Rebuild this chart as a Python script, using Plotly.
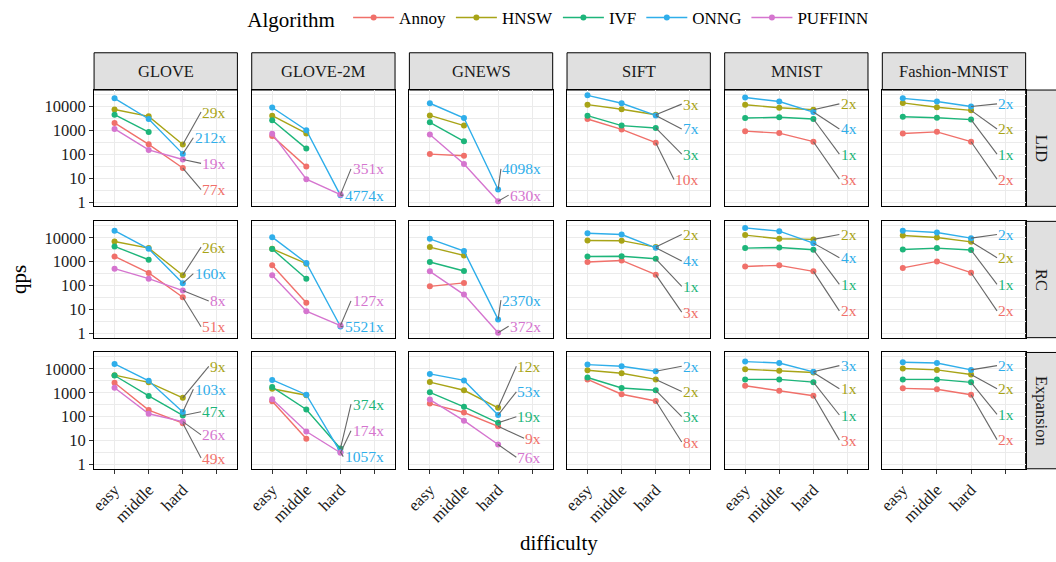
import plotly.graph_objects as go

# ---------------------------------------------------------------- data
DIFFICULTY = ["easy", "middle", "hard", ""]
ALGORITHMS = ["Annoy", "HNSW", "IVF", "ONNG", "PUFFINN"]
DATASETS = ["GLOVE", "GLOVE-2M", "GNEWS", "SIFT", "MNIST", "Fashion-MNIST"]
METRICS = ["LID", "RC", "Expansion"]

# queries per second at easy / middle / hard workloads (None = not measured)
QPS_LID = {
    "GLOVE": {"Annoy": [2050, 262, 26.6], "HNSW": [7500, 3870, 259], "IVF": [4550, 850, None],
              "ONNG": [22000, 3000, 104], "PUFFINN": [1150, 153, 60.5]},
    "GLOVE-2M": {"Annoy": [580, 30.5, None], "HNSW": [4150, 745, None], "IVF": [2650, 173, None],
                 "ONNG": [9100, 1020, 1.906], "PUFFINN": [720, 9.1, 2.05]},
    "GNEWS": {"Annoy": [102, 87, None], "HNSW": [4250, 1590, None], "IVF": [2190, 348, None],
              "ONNG": [13700, 3300, 3.343], "PUFFINN": [680, 39.5, 1.079]},
    "SIFT": {"Annoy": [3000, 1100, 307], "HNSW": [12000, 7700, 4550], "IVF": [4150, 1590, 1270],
             "ONNG": [29300, 13700, 4250]},
    "MNIST": {"Annoy": [930, 770, 337], "HNSW": [11800, 8900, 7300], "IVF": [3300, 3530, 3000],
              "ONNG": [24000, 16200, 5850]},
    "Fashion-MNIST": {"Annoy": [745, 870, 337], "HNSW": [14200, 9300, 6900], "IVF": [3750, 3400, 2830],
                      "ONNG": [22000, 16200, 10000]},
}
QPS_RC = {
    "GLOVE": {"Annoy": [1660, 339, 32.5], "HNSW": [7000, 3720, 270], "IVF": [4350, 1210, None],
              "ONNG": [20000, 3470, 125], "PUFFINN": [510, 195, 62]},
    "GLOVE-2M": {"Annoy": [705, 19, None], "HNSW": [3470, 830, None], "IVF": [3400, 195, None],
                 "ONNG": [10700, 890, 1.938], "PUFFINN": [270, 8.5, 2.126]},
    "GNEWS": {"Annoy": [93, 130, None], "HNSW": [4100, 1830, None], "IVF": [970, 410, None],
              "ONNG": [9100, 2800, 3.84], "PUFFINN": [395, 42, 1.062]},
    "SIFT": {"Annoy": [970, 1130, 288], "HNSW": [7700, 7600, 4100], "IVF": [1660, 1700, 1330],
             "ONNG": [15600, 13700, 3830]},
    "MNIST": {"Annoy": [635, 705, 395], "HNSW": [13000, 9100, 8600], "IVF": [3720, 3960, 3160],
              "ONNG": [26000, 19000, 6000]},
    "Fashion-MNIST": {"Annoy": [550, 1030, 347], "HNSW": [12500, 10300, 6800], "IVF": [3250, 3720, 3080],
                      "ONNG": [20000, 16600, 9700]},
}
QPS_EXPANSION = {
    "GLOVE": {"Annoy": [2630, 190, 53.7], "HNSW": [5500, 2740, 615], "IVF": [5300, 740, 113],
              "ONNG": [16200, 3180, 157], "PUFFINN": [1620, 133, 62.3]},
    "GLOVE-2M": {"Annoy": [447, 12, None], "HNSW": [1480, 790, None], "IVF": [1740, 200, 4.65],
                 "ONNG": [3480, 835, 3.292], "PUFFINN": [540, 24, 3.103]},
    "GNEWS": {"Annoy": [355, 150, 39.4], "HNSW": [2820, 1280, 235], "IVF": [1050, 258, 55.3],
              "ONNG": [6200, 3300, 117], "PUFFINN": [520, 68, 6.84]},
    "SIFT": {"Annoy": [3640, 870, 455], "HNSW": [8850, 6600, 3640], "IVF": [4380, 1590, 1280],
             "ONNG": [15200, 12900, 8000]},
    "MNIST": {"Annoy": [1980, 1230, 750], "HNSW": [9750, 8300, 7080], "IVF": [3640, 3640, 2800],
              "ONNG": [20300, 17800, 7560]},
    "Fashion-MNIST": {"Annoy": [1540, 1410, 835], "HNSW": [10400, 9100, 5870], "IVF": [3640, 3640, 2740],
                      "ONNG": [19000, 17800, 9100]},
}
QPS = {"LID": QPS_LID, "RC": QPS_RC, "Expansion": QPS_EXPANSION}

# ---------------------------------------------------------------- label placement (log10 qps)
LABEL_Y_LID = {
    "GLOVE": {"HNSW": 3.77, "ONNG": 2.69, "PUFFINN": 1.62, "Annoy": 0.52},
    "GLOVE-2M": {"PUFFINN": 1.39, "ONNG": 0.29},
    "GNEWS": {"ONNG": 1.39, "PUFFINN": 0.29},
    "SIFT": {"HNSW": 4.10, "ONNG": 3.06, "IVF": 2.01, "Annoy": 0.94},
    "MNIST": {"HNSW": 4.11, "ONNG": 3.06, "IVF": 2.01, "Annoy": 0.96},
    "Fashion-MNIST": {"ONNG": 4.11, "HNSW": 3.06, "IVF": 2.01, "Annoy": 0.96},
}
LABEL_Y_RC = {
    "GLOVE": {"HNSW": 3.61, "ONNG": 2.50, "PUFFINN": 1.36, "Annoy": 0.28},
    "GLOVE-2M": {"PUFFINN": 1.36, "ONNG": 0.28},
    "GNEWS": {"ONNG": 1.39, "PUFFINN": 0.30},
    "SIFT": {"HNSW": 4.14, "ONNG": 3.03, "IVF": 1.97, "Annoy": 0.89},
    "MNIST": {"HNSW": 4.14, "ONNG": 3.17, "IVF": 2.05, "Annoy": 0.94},
    "Fashion-MNIST": {"ONNG": 4.14, "HNSW": 3.17, "IVF": 2.05, "Annoy": 0.94},
}
LABEL_Y_EXPANSION = {
    "GLOVE": {"HNSW": 4.11, "ONNG": 3.15, "IVF": 2.21, "PUFFINN": 1.24, "Annoy": 0.27},
    "GLOVE-2M": {"IVF": 2.53, "PUFFINN": 1.41, "ONNG": 0.33},
    "GNEWS": {"HNSW": 4.11, "ONNG": 3.04, "IVF": 2.00, "Annoy": 1.10, "PUFFINN": 0.30},
    "SIFT": {"ONNG": 4.11, "HNSW": 3.06, "IVF": 2.00, "Annoy": 0.94},
    "MNIST": {"ONNG": 4.14, "HNSW": 3.17, "IVF": 2.07, "Annoy": 1.02},
    "Fashion-MNIST": {"ONNG": 4.14, "HNSW": 3.17, "IVF": 2.10, "Annoy": 1.04},
}
LABEL_Y = {"LID": LABEL_Y_LID, "RC": LABEL_Y_RC, "Expansion": LABEL_Y_EXPANSION}

COLORS = {"Annoy": "#F0706A", "HNSW": "#A8A417", "IVF": "#1DB57A",
          "ONNG": "#2FAEEA", "PUFFINN": "#D575CF"}

Y_TICKS = [1, 10, 100, 1000, 10000]

# ---------------------------------------------------------------- geometry
W, H = 1056, 562
FONT = "'Liberation Serif', 'Times New Roman', 'DejaVu Serif', serif"
PANEL_W, PANEL_H = 144, 118
COL_LEFT = [89.5 + 158.4 * i for i in range(6)]
ROW_TOP = [88.3, 221.5, 354.5]
X_RANGE = [0.4, 4.6]
Y_RANGE = [-0.18, 4.69]
LABEL_RIGHT = 4.33            # right edge of ratio labels, x data units
PX_X = (X_RANGE[1] - X_RANGE[0]) / PANEL_W
LABEL_SIZE = 15.5

fig = go.Figure()
layout = dict(
    width=W, height=H, margin=dict(l=0, r=0, t=0, b=0),
    paper_bgcolor="white", plot_bgcolor="white",
    font=dict(family=FONT, color="#1a1a1a", size=16),
    showlegend=True,
)
shapes, annotations = [], []

for r, metric in enumerate(METRICS):
    for c, ds in enumerate(DATASETS):
        k = r * 6 + c + 1
        xa = "x" if k == 1 else f"x{k}"
        ya = "y" if k == 1 else f"y{k}"
        left, top = COL_LEFT[c], ROW_TOP[r]
        layout["xaxis" if k == 1 else f"xaxis{k}"] = dict(
            domain=[left / W, (left + PANEL_W) / W], anchor=ya,
            range=X_RANGE, tickmode="array", tickvals=[1, 2, 3, 4], ticktext=DIFFICULTY,
            showticklabels=(r == 2), ticks="outside" if r == 2 else "", ticklen=4,
            tickcolor="#333333", tickangle=-45,
            tickfont=dict(family=FONT, size=16.5, color="#1a1a1a"),
            showgrid=True, gridcolor="#EBEBEB", gridwidth=1.1,
            showline=True, linecolor="black", linewidth=1, mirror=True, zeroline=False,
        )
        layout["yaxis" if k == 1 else f"yaxis{k}"] = dict(
            domain=[1 - (top + PANEL_H) / H, 1 - top / H], anchor=xa,
            type="log", range=Y_RANGE, tickmode="array", tickvals=Y_TICKS,
            ticktext=[str(v) for v in Y_TICKS],
            showticklabels=(c == 0), ticks="outside" if c == 0 else "", ticklen=4,
            tickcolor="#333333", tickfont=dict(family=FONT, size=16.5, color="#1a1a1a"),
            showgrid=True, gridcolor="#EBEBEB", gridwidth=1.1,
            minor=dict(tickvals=[10 ** (i + 0.5) for i in range(0, 5)], showgrid=True,
                       gridcolor="#EBEBEB", gridwidth=0.6, ticks=""),
            showline=True, linecolor="black", linewidth=1, mirror=True, zeroline=False,
        )

        series = QPS[metric][ds]
        # series lines with points
        for algo in ALGORITHMS:
            if algo not in series:
                continue
            fig.add_trace(go.Scatter(
                x=[1, 2, 3], y=series[algo], mode="lines+markers", name=algo,
                legendgroup=algo, showlegend=(k == 1),
                line=dict(color=COLORS[algo], width=1.4),
                marker=dict(color=COLORS[algo], size=6),
                xaxis=xa, yaxis=ya, hoverinfo="skip",
            ))

        # easy / hard speed-up labels with leader segments
        for algo, ly in LABEL_Y[metric][ds].items():
            easy, _, hard = series[algo]
            text = f"{round(easy / hard)}x"
            width_px = len(text) * 0.5 * LABEL_SIZE
            x_end = LABEL_RIGHT - (width_px + 4) * PX_X
            fig.add_trace(go.Scatter(
                x=[3, x_end], y=[hard, 10 ** ly], mode="lines", showlegend=False,
                line=dict(color="#666666", width=1.1), xaxis=xa, yaxis=ya, hoverinfo="skip",
            ))
            annotations.append(dict(
                x=LABEL_RIGHT, y=ly, xref=xa, yref=ya, text=text, showarrow=False,
                xanchor="right", yanchor="middle",
                font=dict(family=FONT, size=LABEL_SIZE, color=COLORS[algo]),
            ))

# facet strips: datasets on top, metrics on the right
for c, ds in enumerate(DATASETS):
    x0, x1 = COL_LEFT[c] / W, (COL_LEFT[c] + PANEL_W) / W
    shapes.append(dict(type="rect", xref="paper", yref="paper", x0=x0, x1=x1,
                       y0=1 - ROW_TOP[0] / H, y1=1 - 50.5 / H,
                       fillcolor="#E0E0E0", line=dict(color="black", width=1), layer="below"))
    annotations.append(dict(x=(x0 + x1) / 2, y=1 - 69.4 / H, xref="paper", yref="paper",
                            text=ds, showarrow=False, xanchor="center", yanchor="middle",
                            font=dict(family=FONT, size=16.5, color="#1a1a1a")))
for r, metric in enumerate(METRICS):
    y0, y1 = 1 - (ROW_TOP[r] + PANEL_H) / H, 1 - ROW_TOP[r] / H
    shapes.append(dict(type="rect", xref="paper", yref="paper",
                       x0=(COL_LEFT[5] + PANEL_W) / W, x1=1.01, y0=y0, y1=y1,
                       fillcolor="#E0E0E0", line=dict(color="black", width=1), layer="below"))
    annotations.append(dict(x=1041.5 / W, y=(y0 + y1) / 2, xref="paper", yref="paper",
                            text=metric, showarrow=False, textangle=90,
                            xanchor="center", yanchor="middle",
                            font=dict(family=FONT, size=16.5, color="#1a1a1a")))

# axis titles
annotations.append(dict(x=557 / W, y=1 - 548 / H, xref="paper", yref="paper", text="difficulty",
                        showarrow=False, xanchor="center", yanchor="middle",
                        font=dict(family=FONT, size=21, color="black")))
annotations.append(dict(x=14 / W, y=1 - 280 / H, xref="paper", yref="paper", text="qps",
                        showarrow=False, textangle=-90, xanchor="center", yanchor="middle",
                        font=dict(family=FONT, size=21, color="black")))

layout["shapes"] = shapes
layout["annotations"] = annotations
layout["legend"] = dict(
    orientation="h", x=557 / W, xanchor="center", y=1 - 16 / H, yanchor="middle",
    title=dict(text="Algorithm ", font=dict(family=FONT, size=21, color="black")),
    font=dict(family=FONT, size=17, color="black"), itemwidth=41,
    bgcolor="rgba(0,0,0,0)",
)
fig.update_layout(**layout)
fig.write_html("out.html")
